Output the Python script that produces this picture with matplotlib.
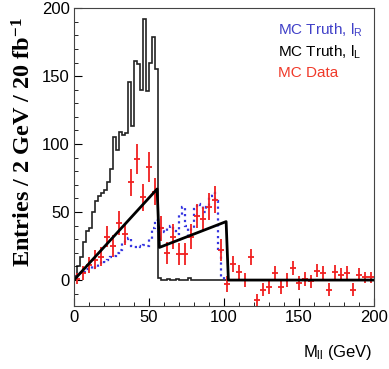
import numpy as np
import matplotlib
matplotlib.use('Agg')
import matplotlib.pyplot as plt

plt.rcParams['font.family'] = ['Liberation Sans', 'DejaVu Sans']
plt.rcParams['mathtext.fontset'] = 'custom'
plt.rcParams['mathtext.rm'] = 'Liberation Serif:bold'
plt.rcParams['mathtext.sf'] = 'Liberation Sans'
plt.rcParams['mathtext.default'] = 'rm'

# MC truth, l_L (2 GeV bins, 0-200)
edges = np.arange(0, 202, 2)
truth_L = [3, 10, 17, 28, 36, 38, 50, 58, 62, 64,
           66, 72, 82, 105, 96, 109, 107, 108, 146, 113,
           161, 159, 140, 192, 139, 160, 179, 155, 1.5, 0,
           0, 1, 0, 0, 1, 0, 0, 0, 1.5, 0,
           0, 0, 0, 0, 0, 0, 0, 0, 0, 0,
           0, 0, 0, 0, 0, 0, 0, 0, 0, 0,
           0, 0, 0, 0, 0, 0, 0, 0, 0, 0,
           0, 0, 0, 0, 0, 0, 0, 0, 0, 0,
           0, 0, 0, 0, 0, 0, 0, 0, 0, 0,
           0, 0, 0, 0, 0, 0, 0, 0, 0, 0]

# MC truth, l_R (2 GeV bins, 0-100)
edges_R = np.arange(0, 102, 2)
truth_R = [2, 4, 5, 6, 8, 8, 10, 9, 12, 14,
           13, 15, 17, 18, 20, 22, 27, 30, 31, 25,
           24, 25, 24, 26, 25, 30, 38, 44, 36, 38,
           35, 38, 40, 36, 34, 48, 54, 40, 32, 38,
           52, 56, 55, 50, 54, 62, 64, 58, 22, 2]

# MC data (4 GeV bins)
data_x = np.arange(2, 200, 4)
data_y = [1, 5, 11, 15, 17, 32, 25, 42, 34, 72,
          89, 61, 83, 65, 38, 20, 32, 19, 19, 32,
          47, 45, 54, 59, 22, -3, 12, 6, 0, 17,
          -15, -7, -5, 5, -5, 0, 9, -2, 1, -1,
          7, 5, -7, 6, 4, 5, -7, 4, 2, 2]
data_err = [4, 5, 6, 7, 7, 8, 8, 9, 8, 10,
            11, 10, 11, 10, 9, 8, 9, 8, 8, 9,
            9, 9, 10, 10, 8, 6, 6, 5, 5, 6,
            5, 5, 5, 5, 5, 5, 5, 5, 5, 5,
            5, 5, 5, 5, 5, 5, 5, 5, 4, 4]

# fitted edge shape
fit_x = [0, 55.5, 57, 101.5, 103, 200]
fit_y = [0, 67, 24, 43, 0, 0]

fig = plt.figure(figsize=(3.89, 3.69), dpi=100)
ax = fig.add_axes([0.190, 0.171, 0.771, 0.807])

ax.stairs(truth_L, edges, color='#222222', lw=1.2)
ax.stairs(truth_R, edges_R, color='#3535e0', lw=1.6, ls=':')
ax.errorbar(data_x, data_y, yerr=data_err, xerr=2, fmt='none',
            ecolor='#f02020', elinewidth=1.3, capsize=0)
ax.plot(fit_x, fit_y, color='black', lw=2)

ax.set_xlim(0, 200)
ax.set_ylim(-19, 200)
ax.set_xticks([0, 50, 100, 150, 200])
ax.set_yticks([0, 50, 100, 150, 200])
ax.set_xticks(np.arange(0, 201, 10), minor=True)
ax.set_yticks(np.arange(-10, 201, 10), minor=True)
ax.tick_params(direction='in', labelsize=12, length=6, pad=3)
ax.tick_params(which='minor', direction='in', length=3)
for s in ax.spines.values():
    s.set_color('#444444')

ax.text(0.68, 0.926, r'MC Truth, l$_\mathsf{R}$', color='#4040c8', fontsize=11,
        va='center', transform=ax.transAxes)
ax.text(0.68, 0.852, r'MC Truth, l$_\mathsf{L}$', color='black', fontsize=11,
        va='center', transform=ax.transAxes)
ax.text(0.68, 0.782, 'MC Data', color='#f03a2a', fontsize=11,
        va='center', transform=ax.transAxes)

fig.text(0.957, 0.046, r'M$_\mathsf{ll}$ (GeV)', ha='right', va='center', fontsize=12)
fig.text(0.062, 0.615, 'Entries / 2 GeV / 20 fb$^{-1}$', rotation=90,
         ha='center', va='center', fontsize=17.5, fontweight='bold',
         family='Liberation Serif')

fig.savefig('out.png', dpi=100)
